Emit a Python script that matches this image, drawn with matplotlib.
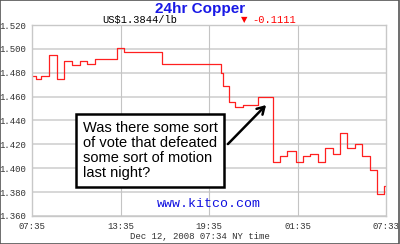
import matplotlib
matplotlib.use("Agg")
import matplotlib.pyplot as plt
from matplotlib.patches import Rectangle

# hours since 07:35 (step start times) and copper price US$/lb
hours = [0, 0.25, 0.61, 1.17, 1.72, 2.19, 2.69, 3.25, 3.75, 4.25,
         5.74, 6.24, 8.83, 12.79, 12.93, 13.36, 13.76, 14.33, 15.34, 16.32,
         16.81, 17.31, 17.88, 18.35, 18.85, 19.41, 19.86, 20.39, 20.88, 21.34,
         21.90, 22.39, 22.92, 23.37, 23.88, 24.0]
price = [1.477, 1.475, 1.4775, 1.495, 1.4745, 1.490, 1.4865, 1.490, 1.487, 1.4918,
         1.5005, 1.497, 1.4873, 1.4795, 1.4689, 1.4558, 1.4511, 1.4530, 1.4594, 1.4052,
         1.4102, 1.4142, 1.4052, 1.4102, 1.4116, 1.4052, 1.4169, 1.4122, 1.4298, 1.4169,
         1.4206, 1.4100, 1.3982, 1.3787, 1.3849, 1.3849]

x_ticks = [0, 6, 12, 18, 24]
x_labels = ["07:35", "13:35", "19:35", "01:35", "07:33"]
y_ticks = [1.36, 1.38, 1.40, 1.42, 1.44, 1.46, 1.48, 1.50, 1.52]

title = "24hr Copper"
quote = "US$1.3844/lb"
change = "-0.1111"
stamp = "Dec 12, 2008 07:34 NY time"
note = "Was there some sort\nof vote that defeated\nsome sort of motion\nlast night?"

mono = "Liberation Mono"
sans = "Liberation Sans"

fig = plt.figure(figsize=(4.0, 2.44), dpi=100)
ax = fig.add_axes([0.08, 0.1148, 0.885, 0.7827])

for y in y_ticks:
    ax.axhline(y, color="#d4d4d4", lw=1.3, zorder=0)
for x in x_ticks[1:-1]:
    ax.axvline(x, color="#c4c4c4", lw=0.8, zorder=0)

ax.plot(hours, price, drawstyle="steps-post", color="#ff2020", lw=0.9, zorder=2)

ax.set_xlim(0, 24)
ax.set_ylim(1.36, 1.52)
ax.set_xticks(x_ticks)
ax.set_xticklabels(x_labels)
ax.set_yticks(y_ticks)
ax.set_yticklabels([f"{v:.3f}" for v in y_ticks])
ax.tick_params(length=0, labelsize=6.5, colors="#333333", pad=4)
for lab in ax.get_xticklabels() + ax.get_yticklabels():
    lab.set_family(mono)
for s in ax.spines.values():
    s.set_color("#c8c8c8")
    s.set_linewidth(1.0)

ax.text(8.0, 1.4148, note, ha="center", va="center", multialignment="left",
        fontsize=10.5, family=sans, linespacing=1.1, zorder=4,
        bbox=dict(boxstyle="square,pad=0.45", fc="white", ec="black", lw=1.8))
ax.annotate("", xy=(16.0, 1.4546), xytext=(13.15, 1.4186),
            arrowprops=dict(arrowstyle="->,head_length=0.5,head_width=0.3",
                            color="black", lw=1.8), zorder=5)

ax.text(0.5, 0.03, "www.kitco.com", transform=ax.transAxes, ha="center", va="bottom",
        color="#1010e0", fontsize=9.5, family=mono)

fig.text(0.5, 0.963, title, ha="center", va="center", color="#1a1ae6",
         fontsize=11, family=sans, fontweight="bold")
fig.text(0.255, 0.918, quote, ha="left", va="center", color="black",
         fontsize=7.5, family=mono)
fig.text(0.61, 0.918, "\u25bc", ha="center", va="center", color="#ff0000",
         fontsize=6, family="DejaVu Sans")
fig.text(0.632, 0.918, change, ha="left", va="center", color="#ff0000",
         fontsize=7.5, family=mono)
fig.text(0.5, 0.03, stamp, ha="center", va="center", color="#333333",
         fontsize=6.5, family=mono)

fig.patches.append(Rectangle((0.001, 0.002), 0.997, 0.996, transform=fig.transFigure,
                             fill=False, ec="#555555", lw=1.2))

fig.savefig("out.png", dpi=100)
